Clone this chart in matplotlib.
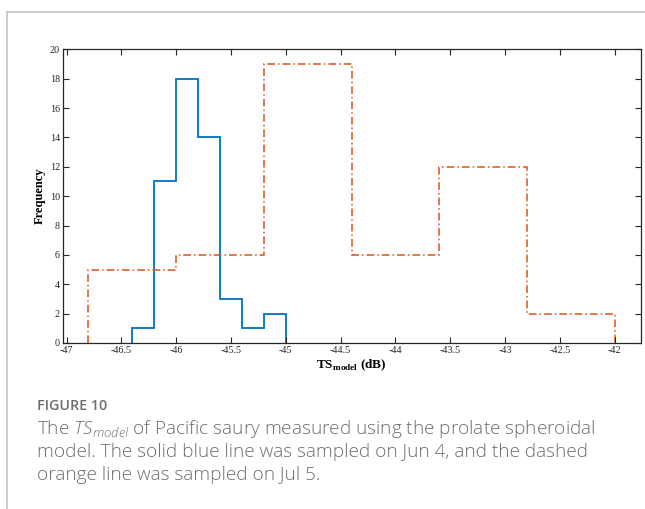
import matplotlib
matplotlib.use("Agg")
import matplotlib.pyplot as plt
from matplotlib.lines import Line2D

# Jun 4 sample (solid blue)
jun_edges = [-46.4, -46.2, -46.0, -45.8, -45.6, -45.4, -45.2, -45.0]
jun_counts = [1, 11, 18, 14, 3, 1, 2]

# Jul 5 sample (dash-dot orange)
jul_edges = [-46.8, -46.0, -45.2, -44.4, -43.6, -42.8, -42.0]
jul_counts = [5, 6, 19, 6, 12, 2]

x_ticks = [-47, -46.5, -46, -45.5, -45, -44.5, -44, -43.5, -43, -42.5, -42]
x_labels = ["-47", "-46.5", "-46", "-45.5", "-45", "-44.5", "-44", "-43.5", "-43", "-42.5", "-42"]
y_ticks = list(range(0, 21, 2))

plt.rcParams["mathtext.fontset"] = "custom"
plt.rcParams["mathtext.rm"] = "Liberation Serif"
plt.rcParams["mathtext.bf"] = "Liberation Serif:bold"
plt.rcParams["mathtext.it"] = "Open Sans:italic:light"

W, H = 645, 509
fig = plt.figure(figsize=(W / 100, H / 100), dpi=100)

def fx(px):
    return px / W

def fy(py):
    return 1 - py / H

ax = fig.add_axes([fx(62.7), fy(343), fx(641) - fx(62.7), fy(49.3) - fy(343)])

ax.stairs(jun_counts, jun_edges, baseline=0, color="#0072BD", linewidth=1.3)
ax.stairs(jul_counts, jul_edges, baseline=0, color="#D95319", linewidth=1.1,
          linestyle=(0, (5, 2, 1, 2)))

ax.set_xlim(-47.035, -41.76)
ax.set_ylim(0, 20)
ax.set_xticks(x_ticks)
ax.set_xticklabels(x_labels)
ax.set_yticks(y_ticks)

for spine in ax.spines.values():
    spine.set_linewidth(0.9)
    spine.set_color("#262626")

ax.tick_params(direction="in", top=True, right=True, length=4, width=0.8,
               color="#262626", labelsize=7.3, pad=2, labelcolor="#262626")
for lbl in ax.get_xticklabels() + ax.get_yticklabels():
    lbl.set_fontfamily("Liberation Serif")

ax.set_ylabel("Frequency", fontfamily="Liberation Serif", fontweight="bold",
              fontsize=9, labelpad=3)
ax.set_xlabel(r"TS$_{\mathbf{model}}$ (dB)", fontfamily="Liberation Serif",
              fontweight="bold", fontsize=9.5, labelpad=2)

# outer frame lines
frame_col = "#c4c4c4"
fig.add_artist(Line2D([fx(6.7), fx(645)], [fy(12.3), fy(12.3)], color=frame_col, linewidth=1.2))
fig.add_artist(Line2D([fx(6.7), fx(6.7)], [fy(12.3), fy(509)], color=frame_col, linewidth=1.2))

# caption
cap_col = "#6e6e6e"
fig.text(fx(37), fy(410), "FIGURE 10", fontfamily="Open Sans", fontsize=10.3,
         fontweight="semibold", color=cap_col, va="baseline")
lines = [
    r"The $\mathit{TS}_{\mathit{model}}$ of Pacific saury measured using the prolate spheroidal",
    "model. The solid blue line was sampled on Jun 4, and the dashed",
    "orange line was sampled on Jul 5.",
]
for i, t in enumerate(lines):
    fig.text(fx(37), fy(434 + 23 * i), t, fontfamily="Open Sans", fontsize=13.7,
             fontweight="light", color=cap_col, va="baseline")

fig.savefig("out.png", dpi=100)
